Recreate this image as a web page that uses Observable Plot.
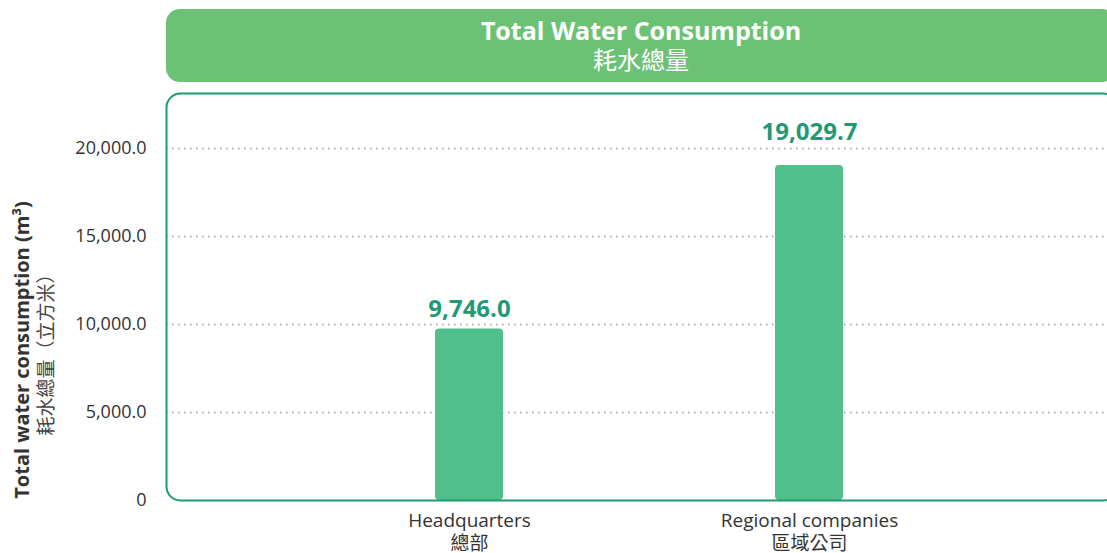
<!DOCTYPE html>
<html>
<head>
<meta charset="utf-8">
<script src="https://cdn.jsdelivr.net/npm/d3@7"></script>
<script src="https://cdn.jsdelivr.net/npm/@observablehq/plot@0.6"></script>
<style>
  html, body { margin: 0; padding: 0; overflow: hidden; background: #fff; }
  #wrap { position: relative; width: 1107px; height: 553px; overflow: hidden; font-family: "Open Sans", "Noto Sans CJK TC", sans-serif; }
  #title { position: absolute; left: 166px; top: 9px; width: 950px; height: 73px; border-radius: 14px; background: #6cc274; color: #fff; text-align: center; z-index: 2; }
  #title .en { font-weight: 700; font-size: 25px; line-height: 30px; margin-top: 6px; }
  #title .zh { font-size: 24px; line-height: 28px; font-family: "Noto Sans CJK TC", sans-serif; }
  #chart { position: absolute; left: 0; top: 0; }
  #chart svg { overflow: hidden; }
</style>
</head>
<body>
<div id="wrap">
  <div id="title"><div class="en">Total Water Consumption</div><div class="zh">耗水總量</div></div>
  <div id="chart"></div>
</div>
<script>
const categories = ["Headquarters", "Regional companies"];
const categoriesZh = ["總部", "區域公司"];
const values = [9746.0, 19029.7];
const yTicks = [0, 5000, 10000, 15000, 20000];
const yTitleEn = "Total water consumption (m³)";
const yTitleZh = "耗水總量（立方米）";

const data = categories.map((c, i) => ({category: c, zh: categoriesZh[i], value: values[i]}));
const fmt = d3.format(",.1f");
const green = "#1f9a72";

const plot = Plot.plot({
  width: 1107,
  height: 553,
  marginTop: 93,
  marginBottom: 53,
  marginLeft: 166,
  marginRight: -10,
  style: {fontFamily: "'Open Sans', 'Noto Sans CJK TC', sans-serif", background: "transparent"},
  x: {domain: categories, range: [166, 1112], paddingInner: 0.8, paddingOuter: 0.791, label: null},
  y: {domain: [0, 20000], range: [500, 148], label: null},
  marks: [
    Plot.gridY(yTicks.filter(d => d > 0), {stroke: "#9a9a9a", strokeOpacity: 1, strokeWidth: 1.5, strokeDasharray: "1.5,4.5"}),
    Plot.barY(data, {x: "category", y: "value", fill: "#50bf8c", rx: 4}),
    Plot.frame({stroke: green, strokeWidth: 2, rx: 14}),
    Plot.axisY(yTicks, {tickSize: 0, tickPadding: 20, fontSize: 18, fill: "#333", tickFormat: d => d === 0 ? "0" : fmt(d), label: null}),
    Plot.axisX({tickSize: 0, tickPadding: 10, fontSize: 19, fill: "#333", lineHeight: 1.22,
      tickFormat: d => d + "\n" + categoriesZh[categories.indexOf(d)], label: null}),
    Plot.text(data.filter((d, i) => i === 0), {x: "category", y: "value", text: d => fmt(d.value), lineAnchor: "bottom", dy: -12, fontSize: 24, fontWeight: "bold", fill: green}),
    Plot.text(data.filter((d, i) => i === 1), {x: "category", y: "value", text: d => fmt(d.value), lineAnchor: "bottom", dy: -26, fontSize: 24, fontWeight: "bold", fill: green}),
    Plot.text([yTitleEn], {frameAnchor: "left", textAnchor: "middle", dx: -144, dy: 53, rotate: -90, fontSize: 20, fontWeight: "bold", fill: "#333"}),
    Plot.text([yTitleZh], {frameAnchor: "left", textAnchor: "middle", dx: -120, dy: 53, rotate: -90, fontSize: 19, fill: "#444"})
  ]
});
document.getElementById("chart").appendChild(plot);
</script>
</body>
</html>
